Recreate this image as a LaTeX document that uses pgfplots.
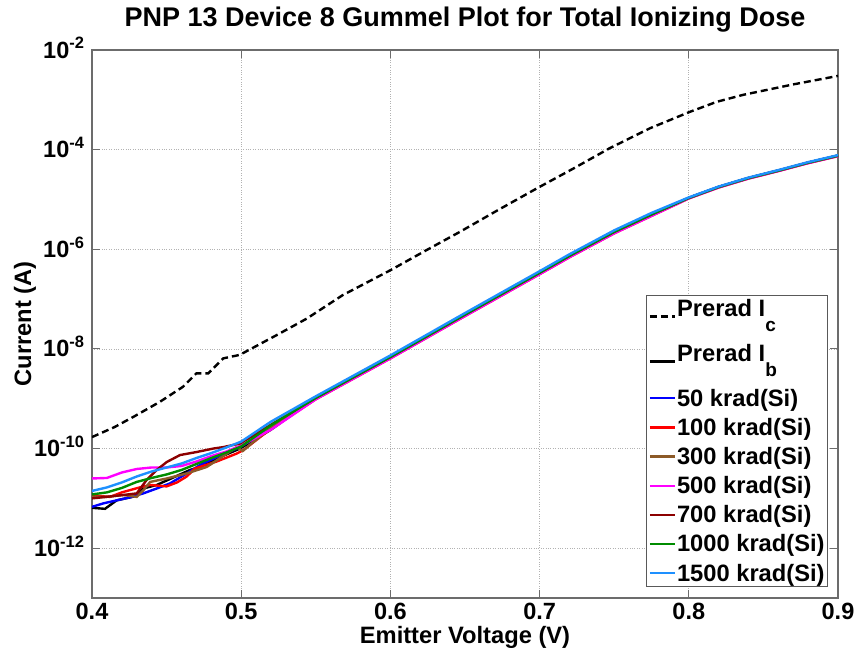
\documentclass[border=0pt]{standalone}
\usepackage{fontspec}
\setmainfont{Liberation Sans}
\usepackage{pgfplots}
\pgfplotsset{compat=1.18}
\definecolor{colBlue}{RGB}{0,0,255}
\definecolor{colRed}{RGB}{255,0,0}
\definecolor{colBrown}{RGB}{140,90,40}
\definecolor{colMag}{RGB}{255,0,255}
\definecolor{colDRed}{RGB}{140,0,0}
\definecolor{colGreen}{RGB}{0,140,0}
\definecolor{colLBlue}{RGB}{30,144,255}
\newcommand{\lab}{\fontsize{23.7}{28}\selectfont\bfseries}
\newcommand{\tlab}{\fontsize{23.5}{28}\selectfont\bfseries}
\newcommand{\lsub}[1]{\raisebox{-15pt}{\fontsize{19}{20}\selectfont #1}}
\begin{document}
\begin{tikzpicture}
\begin{axis}[name=ax, scale only axis, width=746pt, height=548pt,
  xmin=0.4, xmax=0.9, ymode=log, ymin=1e-13, ymax=1e-2,
  xtick={0.4,0.5,0.6,0.7,0.8,0.9},
  xticklabels={0.4,0.5,0.6,0.7,0.8,0.9},
  ytick={1e-12,1e-10,1e-8,1e-6,1e-4,1e-2},
  yticklabels={10\textsuperscript{-12},10\textsuperscript{-10},10\textsuperscript{-8},10\textsuperscript{-6},10\textsuperscript{-4},10\textsuperscript{-2}},
  yminorticks=false,
  grid=major, grid style={gray!60, dotted, line width=0.8pt},
  axis line style={gray!85!black, line width=1.1pt},
  major tick length=8pt, tick style={gray!85!black, line width=1pt},
  tick label style={font=\tlab},
  xticklabel style={inner sep=5pt},
  yticklabel style={anchor=base east, yshift=-8pt, xshift=-4pt},
  title={PNP 13 Device 8 Gummel Plot for Total Ionizing Dose},
  title style={font=\fontsize{27}{32}\selectfont\bfseries, at={(axis description cs:0.5,1)}, anchor=base, yshift=18pt},
  xlabel={Emitter Voltage (V)},
  xlabel style={font=\lab, at={(axis description cs:0.5,-0.0712)}, anchor=center, inner sep=0pt},
  ylabel={Current (A)},
  ylabel style={font=\lab, at={(axis description cs:-0.0898,0.5)}, anchor=center, inner sep=0pt},
  legend style={at={(rel axis cs:0.9866,0.0201)}, anchor=south east, draw=gray!70!black, line width=0.8pt, font=\lab, inner xsep=2pt, inner ysep=3pt, row sep=8.5pt, nodes={inner sep=1pt}, cells={anchor=west}},
  legend image code/.code={\draw[#1] (0pt,0pt) -- (25pt,0pt);},
  every axis plot/.append style={line width=2.4pt},
]
% Prerad Ic
\addplot[color=black, dash pattern=on 7pt off 4pt] coordinates {
(0.400,1.70e-10)(0.415,2.69e-10)(0.428,4.37e-10)(0.4456,8.71e-10)(0.461,1.74e-9)(0.470,3.24e-9)(0.478,3.24e-9)(0.488,6.46e-9)(0.499,7.59e-9)(0.524,1.91e-8)(0.544,4.07e-8)(0.568,1.20e-7)(0.600,3.80e-7)(0.624,9.55e-7)(0.6466,2.24e-6)(0.6723,6.17e-6)(0.698,1.66e-5)(0.7226,4.17e-5)(0.747,1.07e-4)(0.774,2.69e-4)(0.8008,5.75e-4)(0.8187,9.12e-4)(0.8365,1.26e-3)(0.870,2.04e-3)(0.900,3.02e-3)};
\addlegendentry[text depth=17pt]{Prerad I\lsub{c}}
% Prerad Ib
\addplot[color=black] coordinates {
(0.400,6.46e-12)(0.4087,6.17e-12)(0.4165,9.12e-12)(0.4288,1.10e-11)(0.4344,1.58e-11)(0.4434,1.86e-11)(0.4657,3.72e-11)(0.4724,4.27e-11)(0.4836,6.31e-11)(0.4992,1.00e-10)(0.52,2.40e-10)
(0.55,1.045e-9)(0.60,6.91e-9)(0.65,4.90e-8)(0.70,3.39e-7)(0.72,7.41e-7)(0.75,2.24e-6)(0.775,5.01e-6)(0.80,1.075e-5)(0.82,1.78e-5)(0.84,2.69e-5)(0.86,3.80e-5)(0.88,5.49e-5)(0.90,7.58e-5)};
\addlegendentry[text depth=17pt]{Prerad I\lsub{b}}
% 50
\addplot[color=colBlue] coordinates {
(0.400,6.76e-12)(0.4076,7.94e-12)(0.4165,9.12e-12)(0.4255,1.05e-11)(0.4344,1.26e-11)(0.4434,1.58e-11)(0.4523,2.00e-11)(0.4635,3.16e-11)(0.4724,4.68e-11)(0.4836,6.76e-11)(0.4992,1.07e-10)(0.52,2.51e-10)
(0.55,1.045e-9)(0.60,6.91e-9)(0.65,4.90e-8)(0.70,3.39e-7)(0.72,7.41e-7)(0.75,2.24e-6)(0.775,5.01e-6)(0.80,1.075e-5)(0.82,1.78e-5)(0.84,2.69e-5)(0.86,3.80e-5)(0.88,5.49e-5)(0.90,7.58e-5)};
\addlegendentry{50 krad(Si)}
% 100
\addplot[color=colRed] coordinates {
(0.400,1.15e-11)(0.412,1.07e-11)(0.420,1.32e-11)(0.432,1.66e-11)(0.439,1.86e-11)(0.450,1.74e-11)(0.457,2.09e-11)(0.4635,2.75e-11)(0.469,3.98e-11)(0.4836,5.50e-11)(0.497,7.94e-11)(0.5015,9.33e-11)(0.52,2.51e-10)
(0.55,9.76e-10)(0.60,6.45e-9)(0.65,4.57e-8)(0.70,3.16e-7)(0.72,6.92e-7)(0.75,2.09e-6)(0.775,4.68e-6)(0.80,1.05e-5)(0.82,1.74e-5)(0.84,2.63e-5)(0.86,3.72e-5)(0.88,5.37e-5)(0.90,7.41e-5)};
\addlegendentry{100 krad(Si)}
% 300
\addplot[color=colBrown] coordinates {
(0.400,1.07e-11)(0.4094,1.07e-11)(0.421,1.17e-11)(0.430,1.07e-11)(0.4344,1.45e-11)(0.439,2.14e-11)(0.4501,2.51e-11)(0.4635,3.16e-11)(0.4769,4.27e-11)(0.4925,8.71e-11)(0.497,1.07e-10)(0.501,8.91e-11)(0.506,1.20e-10)(0.52,2.63e-10)
(0.55,1.045e-9)(0.60,6.91e-9)(0.65,4.90e-8)(0.70,3.39e-7)(0.72,7.41e-7)(0.75,2.24e-6)(0.775,5.01e-6)(0.80,1.075e-5)(0.82,1.78e-5)(0.84,2.69e-5)(0.86,3.80e-5)(0.88,5.49e-5)(0.90,7.58e-5)};
\addlegendentry{300 krad(Si)}
% 500
\addplot[color=colMag] coordinates {
(0.400,2.51e-11)(0.41,2.57e-11)(0.42,3.31e-11)(0.43,3.89e-11)(0.44,4.17e-11)(0.45,4.17e-11)(0.46,4.47e-11)(0.47,5.50e-11)(0.48,7.08e-11)(0.49,8.71e-11)(0.50,1.15e-10)(0.52,2.40e-10)
(0.55,9.76e-10)(0.60,6.45e-9)(0.65,4.57e-8)(0.70,3.16e-7)(0.72,6.92e-7)(0.75,2.09e-6)(0.775,4.68e-6)(0.80,1.05e-5)(0.82,1.74e-5)(0.84,2.63e-5)(0.86,3.72e-5)(0.88,5.37e-5)(0.90,7.41e-5)};
\addlegendentry{500 krad(Si)}
% 700
\addplot[color=colDRed] coordinates {
(0.400,1.00e-11)(0.4094,1.07e-11)(0.421,1.17e-11)(0.430,1.26e-11)(0.4366,2.34e-11)(0.4434,3.72e-11)(0.4501,5.37e-11)(0.459,7.41e-11)(0.470,8.51e-11)(0.4813,1.00e-10)(0.488,1.07e-10)(0.4992,1.26e-10)(0.52,3.02e-10)
(0.55,1.045e-9)(0.60,6.91e-9)(0.65,4.90e-8)(0.70,3.39e-7)(0.72,7.41e-7)(0.75,2.24e-6)(0.775,5.01e-6)(0.80,1.075e-5)(0.82,1.78e-5)(0.84,2.69e-5)(0.86,3.80e-5)(0.88,5.49e-5)(0.90,7.58e-5)};
\addlegendentry{700 krad(Si)}
% 1000
\addplot[color=colGreen] coordinates {
(0.40,1.20e-11)(0.41,1.32e-11)(0.42,1.62e-11)(0.43,2.14e-11)(0.44,2.57e-11)(0.45,3.02e-11)(0.46,3.72e-11)(0.47,4.90e-11)(0.48,6.46e-11)(0.49,8.32e-11)(0.50,1.10e-10)(0.52,2.95e-10)
(0.55,1.045e-9)(0.60,6.91e-9)(0.65,4.90e-8)(0.70,3.39e-7)(0.72,7.41e-7)(0.75,2.24e-6)(0.775,5.01e-6)(0.80,1.075e-5)(0.82,1.78e-5)(0.84,2.69e-5)(0.86,3.80e-5)(0.88,5.49e-5)(0.90,7.58e-5)};
\addlegendentry{1000 krad(Si)}
% 1500
\addplot[color=colLBlue] coordinates {
(0.40,1.41e-11)(0.41,1.66e-11)(0.42,2.09e-11)(0.43,2.75e-11)(0.44,3.47e-11)(0.45,4.17e-11)(0.46,5.01e-11)(0.47,6.46e-11)(0.48,8.13e-11)(0.49,1.05e-10)(0.50,1.38e-10)(0.52,3.47e-10)
(0.55,1.12e-9)(0.60,7.41e-9)(0.65,5.25e-8)(0.70,3.63e-7)(0.72,7.94e-7)(0.75,2.40e-6)(0.775,5.37e-6)(0.80,1.10e-5)(0.82,1.82e-5)(0.84,2.75e-5)(0.86,3.89e-5)(0.88,5.62e-5)(0.90,7.76e-5)};
\addlegendentry{1500 krad(Si)}
\end{axis}
\pgfresetboundingbox
\path[use as bounding box] ([xshift=-92pt,yshift=-53pt]ax.south west) rectangle ([xshift=19pt,yshift=50pt]ax.north east);
\end{tikzpicture}
\end{document}
